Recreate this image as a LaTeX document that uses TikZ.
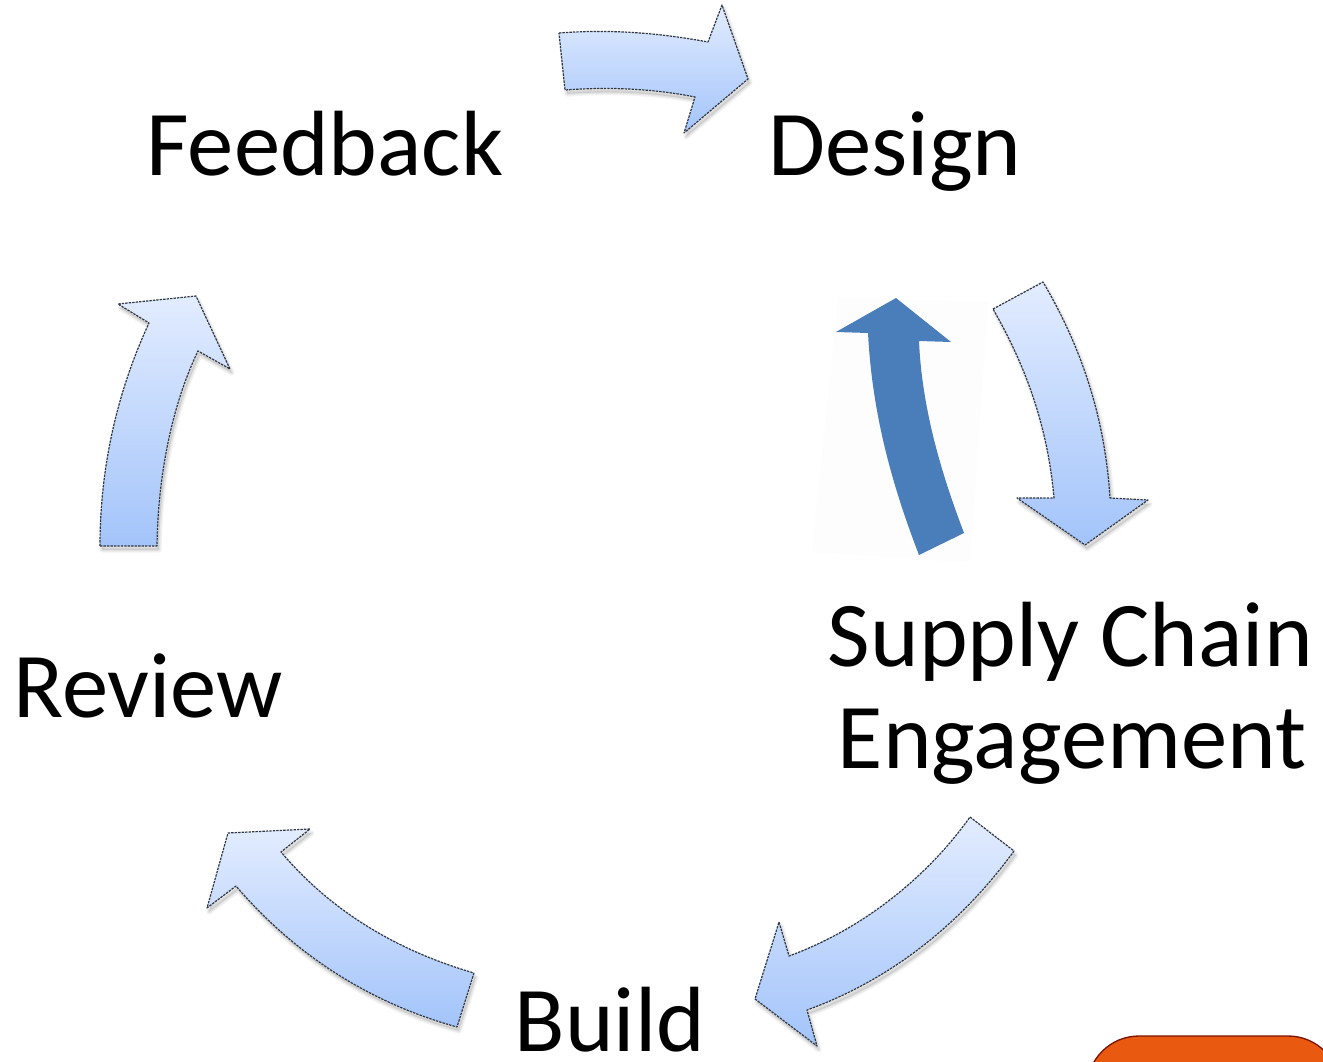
\documentclass[tikz,border=0pt]{standalone}
\usepackage{fontspec}
\setmainfont{Carlito}
\tikzset{
  x=0.75pt, y=-0.75pt,
  label text/.style={inner sep=0pt, anchor=base, font=\fontsize{69.5}{69.5}\selectfont, text=black},
  block fill/.style={top color=blockTop, bottom color=blockBottom, draw=blockEdge, line width=0.9pt, dash pattern=on 1.8pt off 0.8pt, line join=round},
  block shade/.style={draw=black, line join=round, draw opacity=0.05, fill=black, fill opacity=0.05, shift={(2,4)}}
}
\definecolor{blockTop}{HTML}{E2ECFF}
\definecolor{blockBottom}{HTML}{A3C4FA}
\definecolor{blockEdge}{HTML}{2F3742}
\definecolor{solidBlue}{HTML}{4A7EBB}
\definecolor{halo}{HTML}{FDFDFD}
\definecolor{pillFill}{HTML}{EA5910}
\definecolor{pillEdge}{HTML}{7A1505}
\newcommand{\blockarrow}[1]{%
  \path[block shade, line width=4pt] #1;
  \path[block shade, line width=2pt] #1;
  \path[block fill] #1;
}
\begin{document}
\begin{tikzpicture}
\path[use as bounding box] (0,0) rectangle (1323,1062);
\clip (0,0) rectangle (1323,1062);
\fill[white] (0,0) rectangle (1323,1062);

% top arrow
\blockarrow{(559,33) .. controls (610,29) and (660,33) .. (708,42) -- (722,5) -- (748,79) -- (684,133) -- (695,97) .. controls (650,88) and (605,87) .. (565,90) -- cycle}
% right arrow
\blockarrow{(993,309) -- (1043,282) .. controls (1083,350) and (1105,420) .. (1110,498) -- (1148,500) -- (1085,545) -- (1017,498) -- (1054,498) .. controls (1048,430) and (1028,370) .. (993,309) -- cycle}
% solid arrow with its faint backing
\fill[halo] (838,298) -- (988,302) -- (970,562) -- (812,552) -- cycle;
\fill[solidBlue] (896,298) -- (951,342) -- (919,341) .. controls (922,410) and (942,475) .. (964,533) -- (919,555) .. controls (890,480) and (872,410) .. (868,333) -- (836,332) -- cycle;
% lower right arrow
\blockarrow{(970,817) -- (1014,851) .. controls (960,925) and (890,980) .. (807,1010) -- (817,1046) -- (755,999) -- (779,922) -- (789,956) .. controls (860,930) and (925,880) .. (970,817) -- cycle}
% lower left arrow
\blockarrow{(474,973) -- (457,1027) .. controls (370,1003) and (295,955) .. (236,886) -- (207,908) -- (228,833) -- (310,829) -- (281,852) .. controls (330,910) and (395,950) .. (474,973) -- cycle}
% left arrow
\blockarrow{(100,546) -- (157,546) .. controls (158,475) and (172,405) .. (198,351) -- (230,369) -- (196,296) -- (118,304) -- (149,323) .. controls (118,390) and (100,465) .. (100,546) -- cycle}

% labels
\node[label text] (feedback) at (325,175.5) {Feedback};
\node[label text] (design) at (895,175.5) {Design};
\node[label text] (supply) at (1070.5,666) {Supply Chain};
\node[label text] (engagement) at (1072,768) {Engagement};
\node[label text] (review) at (148,717.5) {Review};
\node[label text] (build) at (610,1051) {Build};

% orange shape cut by the page edge
\draw[fill=pillFill, draw=pillEdge, line width=1pt, rounded corners=52*0.75pt] (1087,1036) rectangle (1340,1180);
\end{tikzpicture}
\end{document}
